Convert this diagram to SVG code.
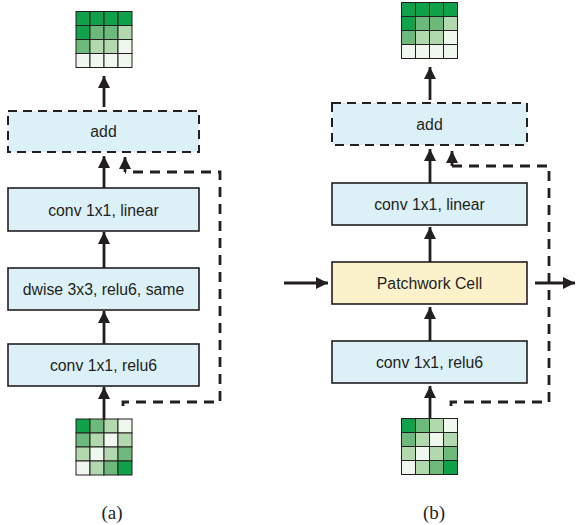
<svg xmlns="http://www.w3.org/2000/svg" width="576" height="525" viewBox="0 0 576 525">
<defs>
<marker id="ah" viewBox="0 0 10 10" refX="10" refY="5" markerWidth="4.4" markerHeight="4.8" orient="auto" markerUnits="strokeWidth">
<path d="M0,0 L10,5 L0,10 Z" fill="#231f20"/>
</marker>
<style>
.box{fill:#dcf0f8;stroke:#231f20;stroke-width:1.6}
.dbox{fill:#dcf0f8;stroke:#231f20;stroke-width:2;stroke-dasharray:9,6}
.cell{fill:#fbf2cc;stroke:#231f20;stroke-width:1.6}
.t{font-family:"Liberation Sans",Arial,sans-serif;font-size:15.8px;fill:#231f20;text-anchor:middle}
.cap{font-family:"Liberation Serif","Times New Roman",serif;font-size:19px;fill:#231f20;text-anchor:middle}
.ar{stroke:#231f20;stroke-width:2.8;fill:none;marker-end:url(#ah)}
.dl{stroke:#231f20;stroke-width:2.8;fill:none;stroke-dasharray:10,7}
.D{fill:#10a14b}.M{fill:#6db87b}.L{fill:#b2d8ae}.V{fill:#eff7ee}
</style>
<g id="gridTop" stroke="#231f20" stroke-width="1">
<rect class="D" x="0" y="0" width="14" height="14"/><rect class="D" x="14" y="0" width="14" height="14"/><rect class="D" x="28" y="0" width="14" height="14"/><rect class="D" x="42" y="0" width="14" height="14"/>
<rect class="D" x="0" y="14" width="14" height="14"/><rect class="M" x="14" y="14" width="14" height="14"/><rect class="M" x="28" y="14" width="14" height="14"/><rect class="L" x="42" y="14" width="14" height="14"/>
<rect class="M" x="0" y="28" width="14" height="14"/><rect class="L" x="14" y="28" width="14" height="14"/><rect class="L" x="28" y="28" width="14" height="14"/><rect class="V" x="42" y="28" width="14" height="14"/>
<rect class="V" x="0" y="42" width="14" height="14"/><rect class="V" x="14" y="42" width="14" height="14"/><rect class="V" x="28" y="42" width="14" height="14"/><rect class="V" x="42" y="42" width="14" height="14"/>
</g>
<g id="gridBot" stroke="#231f20" stroke-width="1">
<rect class="D" x="0" y="0" width="14" height="14"/><rect class="M" x="14" y="0" width="14" height="14"/><rect class="L" x="28" y="0" width="14" height="14"/><rect class="V" x="42" y="0" width="14" height="14"/>
<rect class="M" x="0" y="14" width="14" height="14"/><rect class="L" x="14" y="14" width="14" height="14"/><rect class="V" x="28" y="14" width="14" height="14"/><rect class="L" x="42" y="14" width="14" height="14"/>
<rect class="L" x="0" y="28" width="14" height="14"/><rect class="V" x="14" y="28" width="14" height="14"/><rect class="L" x="28" y="28" width="14" height="14"/><rect class="M" x="42" y="28" width="14" height="14"/>
<rect class="V" x="0" y="42" width="14" height="14"/><rect class="L" x="14" y="42" width="14" height="14"/><rect class="M" x="28" y="42" width="14" height="14"/><rect class="D" x="42" y="42" width="14" height="14"/>
</g>
</defs>
<rect width="576" height="525" fill="#fff"/>

<!-- panel a -->
<g id="a-out"><use href="#gridTop" x="76" y="11.5"/></g>
<g id="a-add"><rect class="dbox" x="8" y="111" width="191" height="41"/><text class="t" x="103.5" y="137">add</text></g>
<g id="a-lin"><rect class="box" x="8" y="188" width="191" height="43"/><text class="t" x="103.5" y="215.5">conv 1x1, linear</text></g>
<g id="a-dw"><rect class="box" x="8" y="268" width="191" height="42"/><text class="t" x="103.5" y="295">dwise 3x3, relu6, same</text></g>
<g id="a-relu"><rect class="box" x="8" y="344" width="191" height="42"/><text class="t" x="103.5" y="371">conv 1x1, relu6</text></g>
<g id="a-in"><use href="#gridBot" x="76" y="419"/></g>
<text class="cap" x="112" y="519">(a)</text>

<!-- panel b -->
<g id="b-out"><use href="#gridTop" x="401.5" y="2.5"/></g>
<g id="b-add"><rect class="dbox" x="332" y="103" width="195" height="42"/><text class="t" x="429.5" y="130">add</text></g>
<g id="b-lin"><rect class="box" x="332" y="183" width="195" height="42"/><text class="t" x="429.5" y="210">conv 1x1, linear</text></g>
<g id="b-pc"><rect class="cell" x="332" y="262" width="195" height="42"/><text class="t" x="429.5" y="289">Patchwork Cell</text></g>
<g id="b-relu"><rect class="box" x="332" y="341" width="195" height="42"/><text class="t" x="429.5" y="368">conv 1x1, relu6</text></g>
<g id="b-in"><use href="#gridBot" x="401.5" y="418.5"/></g>
<text class="cap" x="434" y="519">(b)</text>

<g id="connectors">
<line class="ar" x1="104" y1="107" x2="104" y2="76"/>
<line class="ar" x1="104" y1="188" x2="104" y2="156"/>
<line class="ar" x1="104" y1="268" x2="104" y2="232"/>
<line class="ar" x1="104" y1="344" x2="104" y2="311"/>
<line class="ar" x1="104" y1="420" x2="104" y2="387"/>
<line class="ar" x1="125" y1="172" x2="125" y2="157"/>
<path class="dl" d="M123,406 L123,402 L220,402 L220,172 L125,172"/>

<line class="ar" x1="430" y1="100" x2="430" y2="67"/>
<line class="ar" x1="430" y1="183" x2="430" y2="149"/>
<line class="ar" x1="430" y1="262" x2="430" y2="227"/>
<line class="ar" x1="430" y1="341" x2="430" y2="307"/>
<line class="ar" x1="430" y1="419" x2="430" y2="386"/>
<line class="ar" x1="452" y1="166" x2="452" y2="151"/>
<path class="dl" d="M451,406 L451,402 L549,402 L549,166 L452,166"/>
<line class="ar" x1="284" y1="283" x2="328" y2="283"/>
<line class="ar" x1="535" y1="283" x2="575" y2="283"/>
</g>
</svg>
